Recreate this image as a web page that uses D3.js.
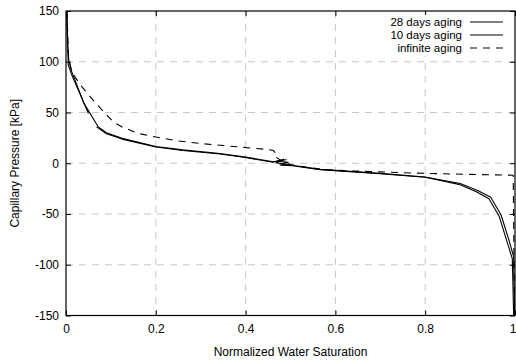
<!DOCTYPE html>
<html>
<head>
<meta charset="utf-8">
<script src="https://cdn.jsdelivr.net/npm/d3@7"></script>
<style>
  html, body { margin: 0; padding: 0; background: #fff; }
  svg { display: block; font-family: "Liberation Sans", Arial, sans-serif; }
</style>
</head>
<body>
<svg id="chart" width="516" height="364"></svg>
<script>
// Capillary pressure vs normalized water saturation for three aging times.
// Each curve is a list of [saturation, pressure] pairs; NaN marks a gap.
const curve28days = [
  [0.002, 150], [0.003, 120], [0.006, 102], [0.013, 90], [0.04, 59],
  [0.072, 35.8], [0.09, 30], [0.125, 24.5], [0.2, 16.5], [0.26, 13.2],
  [0.343, 9.6], [0.4, 6], [0.462, 1.5], [0.49, 3.5], [0.472, 2],
  [0.495, 1], [0.476, -0.8], [0.5, -1.5], [0.51, -2.5], [0.566, -6],
  [0.7, -10], [0.8, -13.5], [0.878, -20], [0.918, -27], [0.946, -33.5],
  [0.969, -51], [0.986, -75], [0.997, -92], [0.999, -150]
];
const curve10days = [
  [0.002, 150], [0.004, 115], [0.005, 97], [0.012, 88], [0.05, 49],
  [NaN, NaN],
  [0.068, 35.8], [0.09, 29], [0.125, 23.8], [0.2, 16], [0.26, 12.6],
  [0.343, 9.1], [0.4, 5.6], [0.46, 1], [0.485, 4], [0.468, 0.5],
  [0.492, -1], [0.478, -2], [0.505, -2.5], [0.566, -6.3], [0.7, -10.3],
  [0.8, -13.8], [0.875, -20.8], [0.914, -28], [0.942, -35], [0.965, -52.5],
  [0.982, -77], [0.994, -94], [0.997, -150]
];
const curveInfinite = [
  [0.002, 150], [0.006, 102], [0.012, 92], [0.017, 87], [0.036, 75],
  [0.058, 63.5], [0.08, 52.5], [0.106, 40.5], [0.125, 35.8], [0.161, 29.3],
  [0.2, 25.9], [0.25, 22], [0.3, 19.4], [0.343, 17.7], [0.451, 13.5],
  [0.462, 12.5], [0.466, 10.5], [0.464, 7], [0.48, 2.5], [0.5, -1.5],
  [0.566, -5.8], [0.62, -7.3], [0.77, -9.6], [0.9, -11], [0.996, -11.8],
  [0.999, -150]
];

const xTicks = [0, 0.2, 0.4, 0.6, 0.8, 1];
const xTickLabels = ["0", "0.2", "0.4", "0.6", "0.8", "1"];
const yTicks = [-150, -100, -50, 0, 50, 100, 150];
const yTickLabels = ["-150", "-100", "-50", "0", "50", "100", "150"];

const seriesNames = ["28 days aging", "10 days aging", "infinite aging"];
const seriesData = [curve28days, curve10days, curveInfinite];
const seriesDash = [null, null, "7,6"];

const svg = d3.select("#chart");
const plotLeft = 66, plotRight = 515, plotTop = 11, plotBottom = 315.5;
const fontSize = 12;

const x = d3.scaleLinear().domain([0, 1]).range([plotLeft, plotRight]);
const y = d3.scaleLinear().domain([-150, 150]).range([plotBottom, plotTop]);

// grid
const grid = svg.append("g").attr("stroke", "#c8c8c8").attr("stroke-width", 1)
  .attr("stroke-dasharray", "7,6").attr("fill", "none");
xTicks.slice(1, -1).forEach(t => {
  grid.append("line").attr("x1", x(t)).attr("x2", x(t)).attr("y1", plotTop).attr("y2", plotBottom);
});
yTicks.slice(1, -1).forEach(t => {
  grid.append("line").attr("x1", plotLeft).attr("x2", plotRight).attr("y1", y(t)).attr("y2", y(t));
});

// axes with inward ticks, mirrored on all four sides
const tickLen = 5;
const gx = svg.append("g").attr("transform", `translate(0,${plotBottom})`)
  .call(d3.axisBottom(x).tickValues(xTicks).tickFormat((d, i) => xTickLabels[i])
    .tickSizeInner(-tickLen).tickSizeOuter(0).tickPadding(9));
const gxTop = svg.append("g").attr("transform", `translate(0,${plotTop})`)
  .call(d3.axisTop(x).tickValues(xTicks).tickFormat("").tickSizeInner(-tickLen).tickSizeOuter(0));
const gy = svg.append("g").attr("transform", `translate(${plotLeft},0)`)
  .call(d3.axisLeft(y).tickValues(yTicks).tickFormat((d, i) => yTickLabels[i])
    .tickSizeInner(-tickLen).tickSizeOuter(0).tickPadding(7));
const gyRight = svg.append("g").attr("transform", `translate(${plotRight},0)`)
  .call(d3.axisRight(y).tickValues(yTicks).tickFormat("").tickSizeInner(-tickLen).tickSizeOuter(0));

[gx, gxTop, gy, gyRight].forEach(g => {
  g.select(".domain").remove();
  g.selectAll(".tick line").attr("stroke", "#000");
  g.selectAll("text").attr("font-size", fontSize).attr("fill", "#000")
    .attr("font-family", "'Liberation Sans', Arial, sans-serif");
});
gx.selectAll("text").attr("dy", "0.71em");
// keep the last label inside the page edge
gx.selectAll(".tick").filter(d => d === 1).select("text")
  .attr("text-anchor", "end").attr("x", 1);

// curves
const line = d3.line()
  .defined(d => !isNaN(d[0]))
  .x(d => x(d[0])).y(d => y(d[1]));

const plot = svg.append("g");
seriesData.forEach((data, i) => {
  plot.append("path")
    .attr("d", line(data))
    .attr("fill", "none")
    .attr("stroke", "#000")
    .attr("stroke-width", 1.1)
    .attr("stroke-linejoin", "round")
    .attr("stroke-dasharray", seriesDash[i]);
});

// frame
svg.append("rect").attr("x", plotLeft).attr("y", plotTop)
  .attr("width", plotRight - plotLeft).attr("height", plotBottom - plotTop)
  .attr("fill", "none").attr("stroke", "#000").attr("stroke-width", 1.2);

// legend
const legendFont = 11.5;
const legend = svg.append("g");
legend.append("rect").attr("x", 382).attr("y", 15).attr("width", 128).attr("height", 41)
  .attr("fill", "#fff");
const rowY = [22, 35, 48];
seriesNames.forEach((name, i) => {
  legend.append("text").attr("x", 462).attr("y", rowY[i]).attr("dy", "0.35em")
    .attr("text-anchor", "end").attr("font-size", legendFont).attr("fill", "#000").text(name);
  legend.append("line").attr("x1", 470).attr("x2", 503).attr("y1", rowY[i]).attr("y2", rowY[i])
    .attr("stroke", "#000").attr("stroke-width", 1.1).attr("stroke-dasharray", seriesDash[i]);
});

// axis titles
svg.append("text").attr("x", (plotLeft + plotRight) / 2).attr("y", 352).attr("dy", "0.35em")
  .attr("text-anchor", "middle").attr("font-size", fontSize).text("Normalized Water Saturation");
svg.append("text").attr("transform", `translate(15,${(plotTop + plotBottom) / 2}) rotate(-90)`)
  .attr("dy", "0.35em").attr("text-anchor", "middle").attr("font-size", fontSize)
  .text("Capillary Pressure [kPa]");
</script>
</body>
</html>
